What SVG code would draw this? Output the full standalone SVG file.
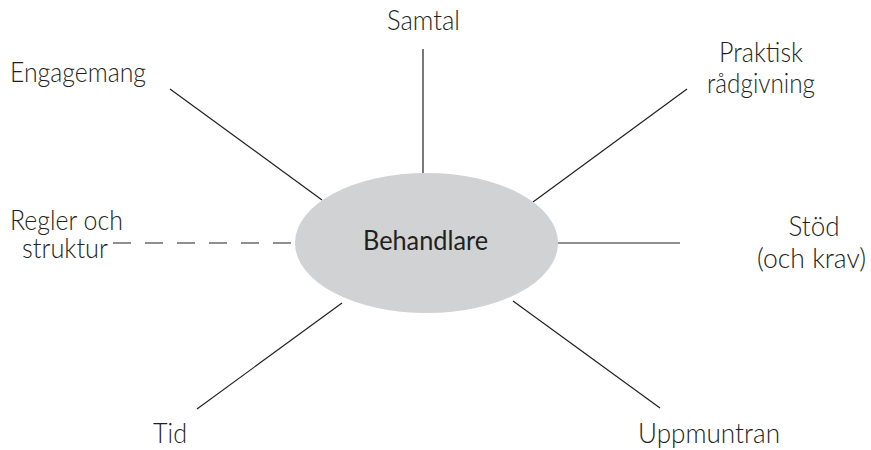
<svg xmlns="http://www.w3.org/2000/svg" width="871" height="450" viewBox="0 0 871 450">
  <style>
    .lbl { font-family: Lato, "Open Sans", "Liberation Sans", sans-serif; font-weight: 300; font-size: 27px; fill: #231f20; text-anchor: middle; }
    .core { font-family: Lato, "Open Sans", "Liberation Sans", sans-serif; font-weight: 400; font-size: 27px; fill: #231f20; text-anchor: middle; }
    .link { stroke: #231f20; stroke-width: 1.2; fill: none; }
    .dash { stroke-dasharray: 18 14; }
  </style>
  <rect width="871" height="450" fill="#ffffff"/>

  <!-- spokes from the central node -->
  <g id="connectors">
    <line class="link" x1="423" y1="49" x2="423" y2="173"/>
    <line class="link" x1="170" y1="89" x2="322" y2="200"/>
    <line class="link" x1="687" y1="89" x2="533" y2="202"/>
    <line class="link" x1="557" y1="243" x2="680" y2="243"/>
    <line class="link dash" x1="113" y1="243" x2="295" y2="243"/>
    <line class="link" x1="197" y1="409" x2="342" y2="303"/>
    <line class="link" x1="513" y1="301" x2="660" y2="408"/>
  </g>

  <g id="behandlare">
    <ellipse cx="426.5" cy="243" rx="131.5" ry="70" fill="#d1d2d4"/>
    <text class="core" x="425.5" y="250" textLength="125" lengthAdjust="spacingAndGlyphs">Behandlare</text>
  </g>
  <g id="samtal"><text class="lbl" x="423.5" y="30" textLength="73" lengthAdjust="spacingAndGlyphs">Samtal</text></g>
  <g id="engagemang"><text class="lbl" x="78" y="82" textLength="136" lengthAdjust="spacingAndGlyphs">Engagemang</text></g>
  <g id="praktisk-radgivning">
    <text class="lbl" x="761" y="62" textLength="84" lengthAdjust="spacingAndGlyphs">Praktisk</text>
    <text class="lbl" x="761" y="93" textLength="108" lengthAdjust="spacingAndGlyphs">rådgivning</text>
  </g>
  <g id="stod">
    <text class="lbl" x="814" y="236" textLength="51" lengthAdjust="spacingAndGlyphs">Stöd</text>
    <text class="lbl" x="811.5" y="268" textLength="109" lengthAdjust="spacingAndGlyphs">(och krav)</text>
  </g>
  <g id="regler">
    <text class="lbl" x="66.5" y="230" textLength="113" lengthAdjust="spacingAndGlyphs">Regler och</text>
    <text class="lbl" x="65" y="258" textLength="86" lengthAdjust="spacingAndGlyphs">struktur</text>
  </g>
  <g id="tid"><text class="lbl" x="170" y="443" textLength="34" lengthAdjust="spacingAndGlyphs">Tid</text></g>
  <g id="uppmuntran"><text class="lbl" x="709" y="443" textLength="142" lengthAdjust="spacingAndGlyphs">Uppmuntran</text></g>
</svg>
